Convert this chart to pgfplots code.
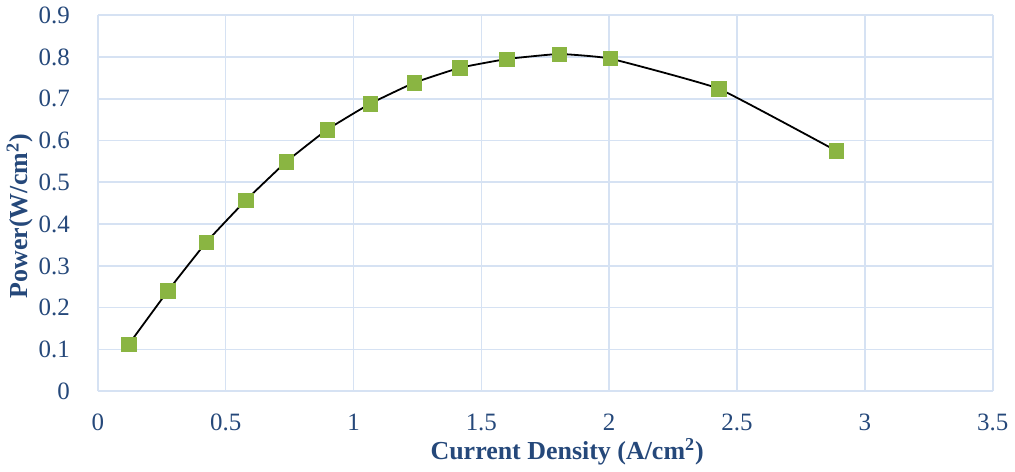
\documentclass[border=0pt]{standalone}
\usepackage{pgfplots}
\pgfplotsset{compat=1.18}
\usepackage{fontspec}
\setmainfont{Liberation Serif}
\definecolor{txt}{RGB}{37,72,122}
\definecolor{axl}{RGB}{143,176,222}
\definecolor{grd}{RGB}{214,226,243}
\definecolor{mk}{RGB}{138,181,66}
\pgfplotstableread{
x y
0.122 0.113
0.274 0.240
0.425 0.357
0.579 0.457
0.737 0.549
0.897 0.626
1.065 0.688
1.237 0.738
1.416 0.774
1.600 0.795
1.804 0.807
2.004 0.796
2.428 0.724
2.889 0.575
}\datatable
\begin{document}
\begin{tikzpicture}
\begin{axis}[
  scale only axis,
  width=448.5pt, height=188.5pt,
  xmin=0, xmax=3.5, ymin=0, ymax=0.9,
  xtick={0,0.5,...,3.5}, ytick={0,0.1,...,0.9},
  xticklabels={0,0.5,1,1.5,2,2.5,3,3.5},
  yticklabels={0,0.1,0.2,0.3,0.4,0.5,0.6,0.7,0.8,0.9},
  grid=major,
  major grid style={grd, line width=0.8pt},
  axis line style={draw=none},
  axis x line*=bottom, axis y line*=left,
  x axis line style={axl, line width=1pt},
  y axis line style={axl, line width=1pt},
  tick style={draw=none},
  tick label style={font=\fontsize{12.5}{14}\selectfont, text=txt},
  xticklabel style={yshift=-8pt},
  yticklabel style={xshift=-10.5pt},
  xlabel={\textbf{Current Density (A/cm\textsuperscript{2})}},
  ylabel={\textbf{Power(W/cm\textsuperscript{2})}},
  label style={font=\fontsize{13}{15}\selectfont, text=txt},
  xlabel style={yshift=3pt, xshift=11pt},
  ylabel style={yshift=-4pt, xshift=-6.5pt},
  clip=false,
]
\addplot[black, line width=0.9pt, smooth, tension=0.2, mark=square*, mark size=3.6pt,
  mark options={fill=mk, draw=mk, line width=0.3pt, rounded corners=1.2pt}]
  table[x=x,y=y]{\datatable};
\end{axis}
\end{tikzpicture}
\end{document}
